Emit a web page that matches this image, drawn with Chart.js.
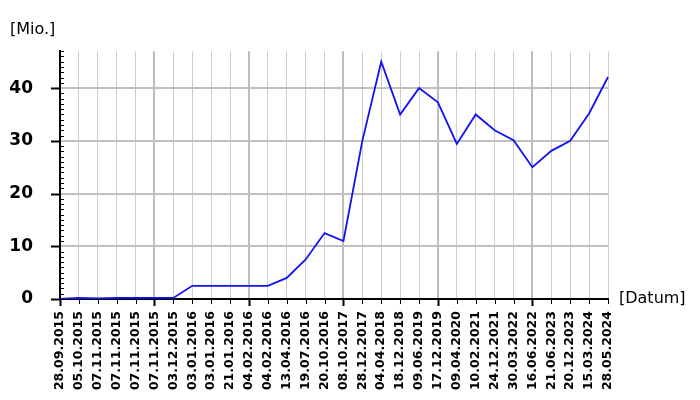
<!DOCTYPE html>
<html>
<head>
<meta charset="utf-8">
<script src="https://cdn.jsdelivr.net/npm/chart.js@4"></script>
<style>
  html, body { margin: 0; padding: 0; background: #fff; }
  #wrap { width: 700px; height: 400px; }
</style>
</head>
<body>
<div id="wrap"><canvas id="chart" width="700" height="400"></canvas></div>
<script>
const dates = [
  "28.09.2015", "05.10.2015", "07.11.2015", "07.11.2015", "07.11.2015",
  "07.11.2015", "03.12.2015", "03.01.2016", "03.01.2016", "21.01.2016",
  "04.02.2016", "04.02.2016", "13.04.2016", "19.07.2016", "20.10.2016",
  "08.10.2017", "28.12.2017", "04.04.2018", "18.12.2018", "09.06.2019",
  "17.12.2019", "09.04.2020", "10.02.2021", "24.12.2021", "30.03.2022",
  "16.06.2022", "21.06.2023", "20.12.2023", "15.03.2024", "28.05.2024"
];
const values = [
  0, 0.2, 0.1, 0.2, 0.2,
  0.2, 0.2, 2.5, 2.5, 2.5,
  2.5, 2.5, 4, 7.5, 12.5,
  11, 30, 45, 35, 40,
  37.3, 29.4, 35, 32, 30.1,
  25, 28.1, 30, 35.2, 42.1
];
const yLabelStep = 10;
const yMax = 47;

Chart.defaults.font.family = "DejaVu Sans";
Chart.defaults.color = "#000";

// small tick marks and the [Datum] label next to the x axis
const axisMarks = {
  id: "axisMarks",
  afterDraw(chart) {
    const { ctx, chartArea, scales: { x, y } } = chart;
    ctx.save();
    ctx.strokeStyle = "#000";
    y.ticks.forEach(t => {
      const py = Math.round(y.getPixelForValue(t.value)) + 0.5;
      const major = t.value % yLabelStep === 0;
      ctx.lineWidth = major ? 2 : 1;
      ctx.beginPath();
      ctx.moveTo(major ? chartArea.left - 9 : chartArea.left, py);
      ctx.lineTo(major ? chartArea.left : chartArea.left + 4, py);
      ctx.stroke();
    });
    dates.forEach((d, i) => {
      const px = Math.round(x.getPixelForValue(i)) + 0.5;
      const major = i % 5 === 0;
      ctx.lineWidth = major ? 2 : 1;
      ctx.beginPath();
      ctx.moveTo(px, chartArea.bottom);
      ctx.lineTo(px, chartArea.bottom + (major ? 7 : 5));
      ctx.stroke();
    });
    ctx.fillStyle = "#000";
    ctx.font = "16px 'DejaVu Sans'";
    ctx.textBaseline = "middle";
    ctx.fillText("[Datum]", chartArea.right + 11, chartArea.bottom);
    ctx.restore();
  }
};

new Chart(document.getElementById("chart"), {
  type: "line",
  data: {
    labels: dates,
    datasets: [{
      data: values,
      borderColor: "#1212f5",
      borderWidth: 1.8,
      pointRadius: 0,
      tension: 0,
      fill: false
    }]
  },
  options: {
    responsive: false,
    animation: false,
    layout: { padding: { left: 10, right: 92, bottom: 0 } },
    plugins: {
      legend: { display: false },
      tooltip: { enabled: false },
      title: {
        display: true,
        text: "[Mio.]",
        align: "start",
        font: { size: 16, weight: "normal" },
        padding: { top: 20, bottom: 12 }
      }
    },
    scales: {
      x: {
        offset: false,
        afterFit: s => { s.height = 101; },
        grid: {
          drawTicks: false,
          color: c => c.index % 5 === 0 ? "#bdbdbd" : "#cdcdcd",
          lineWidth: c => c.index % 5 === 0 ? 2 : 1
        },
        border: { color: "#000", width: 2 },
        ticks: {
          autoSkip: false,
          minRotation: 90,
          maxRotation: 90,
          padding: 12,
          font: { size: 12.5, weight: "bold" }
        }
      },
      y: {
        min: 0,
        max: yMax,
        afterFit: s => { s.width = 50; },
        grid: {
          drawTicks: false,
          color: c => (c.tick.value % yLabelStep === 0 && c.tick.value !== 0) ? "#c0c0c0" : "rgba(0,0,0,0)",
          lineWidth: 2
        },
        border: { color: "#000", width: 2 },
        ticks: {
          stepSize: 1,
          autoSkip: false,
          padding: 27,
          font: { size: 17, weight: "bold" },
          callback: v => v % yLabelStep === 0 ? v : ""
        }
      }
    }
  },
  plugins: [axisMarks]
});
</script>
</body>
</html>
